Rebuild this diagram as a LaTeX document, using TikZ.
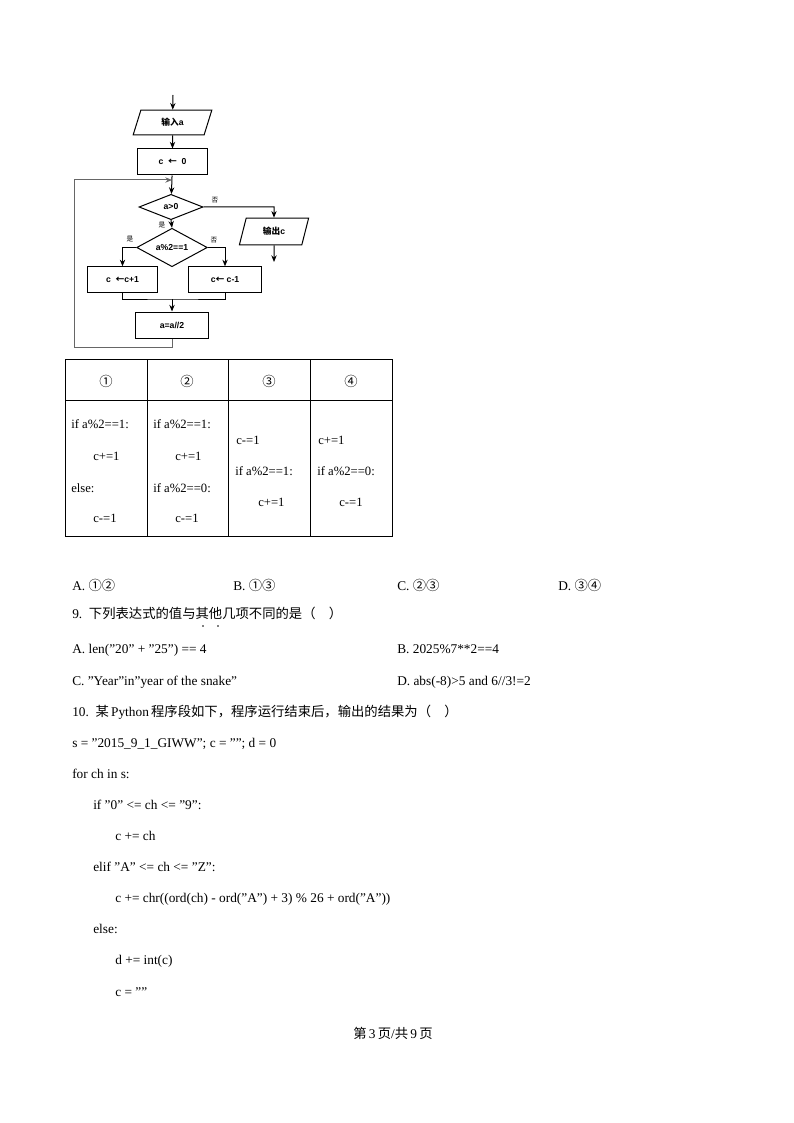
\documentclass[tikz,border=0pt]{standalone}
\usepackage{fontspec}
\setmainfont{Liberation Serif}
\newfontfamily\cjk{Noto Sans CJK SC}
\newfontfamily\cjkb{Noto Sans CJK SC Bold}
\newfontfamily\fsans{Liberation Sans}
\usetikzlibrary{shapes.geometric,arrows.meta}
\begin{document}
\begin{tikzpicture}[x=0.75pt,y=-0.75pt,
  every node/.style={inner sep=0pt},
  fc/.style={draw,line width=0.75pt,font=\fsans\bfseries\fontsize{6.5}{7}\selectfont},
  rbox/.style={fc,rectangle},
  para/.style={fc,trapezium,trapezium left angle=72,trapezium right angle=108,trapezium stretches=true},
  dia/.style={fc,diamond},
  lab/.style={font=\cjk\fontsize{5}{6}\selectfont},
  ar/.style={line width=0.75pt,-{Stealth[length=5pt,width=4pt]}},
  ln/.style={line width=0.75pt},
  tx/.style={anchor=base west,font=\fontsize{10}{12}\selectfont},
  tt/.style={anchor=base west,font=\fontsize{9.5}{12}\selectfont},
  hd/.style={font=\cjk\fontsize{10}{12}\selectfont}]
\useasboundingbox (0,0) rectangle (793,1123);
\fill[white] (0,0) rectangle (793,1123);
% flowchart
\coordinate (st) at (173,95);
\node[para,minimum width=59pt,minimum height=18.5pt] (in) at (172.5,122.5) {{\cjkb 输入}a};
\node[rbox,minimum width=52pt,minimum height=19.5pt] (c0) at (172.5,162) {c\ \ {\cjk ←}\ \ 0};
\node[dia,minimum width=48pt,minimum height=19pt] (d1) at (171,207) {a>0};
\node[para,minimum width=52pt,minimum height=20pt] (out) at (274,231.5) {{\cjkb 输出}c};
\coordinate (oe) at (274,262);
\node[dia,minimum width=53pt,minimum height=22pt] (d2) at (172,247.5) {a\%2==1};
\node[rbox,minimum width=53pt,minimum height=19pt] (r1) at (122.5,279.5) {c\ \ {\cjk ←}c+1};
\node[rbox,minimum width=55pt,minimum height=19pt] (r2) at (225,279.5) {c{\cjk ←}\ c-1};
\node[rbox,minimum width=55pt,minimum height=19.5pt] (r3) at (172,325) {a=a//2};
\coordinate (jn) at (172,180);
\coordinate (mg) at (172,299);
\draw[ar] (st) -- (in);
\draw[ar] (in) -- (c0);
\draw[ar] (c0) -- (d1);
\draw[ar] (d1.east) -- (d1.east -| out) -- (out.north);
\draw[ar] (out.south) -- (oe);
\draw[ar] (d1.south) -- (d2.north);
\draw[ar] (d2.west) -| (r1.north);
\draw[ar] (d2.east) -| (r2.north);
\draw[ln] (r1.south) |- (mg) -| (r2.south);
\draw[ar] (mg) -- (r3.north);
\draw[ar,draw=black!60] (r3.south) -- (172,347) -- (74,347) -- (74,180) -- (jn);
\node[lab] at (215,200) {否};
\node[lab] at (162,225) {是};
\node[lab] at (130,239) {是};
\node[lab] at (214,240) {否};
% table
\draw[line width=0.6pt] (65,359) rectangle (392,536);
\draw[line width=0.6pt] (65,400) -- (392,400);
\foreach \x in {147,228,310} \draw[line width=0.6pt] (\x,359) -- (\x,536);
\node[hd] (h1) at (106,381) {①};
\node[hd] (h2) at (187,381) {②};
\node[hd] (h3) at (269,381) {③};
\node[hd] (h4) at (351,381) {④};
\node[tt] at (71,428) {if a\%2==1:};
\node[tt] at (93,460) {c+=1};
\node[tt] at (71,492) {else:};
\node[tt] at (93,522) {c-=1};
\node[tt] at (153,428) {if a\%2==1:};
\node[tt] at (175,460) {c+=1};
\node[tt] at (153,492) {if a\%2==0:};
\node[tt] at (175,522) {c-=1};
\node[tt] at (236,444) {c-=1};
\node[tt] at (235,475) {if a\%2==1:};
\node[tt] at (258,506) {c+=1};
\node[tt] at (318,444) {c+=1};
\node[tt] at (317,475) {if a\%2==0:};
\node[tt] at (339,506) {c-=1};
% text
\node[tx] at (72,590) {A. {\cjk ①②}};
\node[tx] at (233,590) {B. {\cjk ①③}};
\node[tx] at (397,590) {C. {\cjk ②③}};
\node[tx] at (558,590) {D. {\cjk ③④}};
\node[tx] at (72,618) {9.\ \ {\cjk 下列表达式的值与其他几项不同的是（\quad ）}};
\fill (203,626) circle (0.9) (218,626) circle (0.9);
\node[tx] at (72,653) {A. len("20" + "25") == 4};
\node[tx] at (397,653) {B. 2025\%7**2==4};
\node[tx] at (72,685) {C. "Year"in"year of the snake"};
\node[tx] at (397,685) {D. abs(-8)>5 and 6//3!=2};
\node[tx] at (72,716) {10.\ \ {\cjk 某}\,Python\,{\cjk 程序段如下，程序运行结束后，输出的结果为（\quad ）}};
\node[tx] at (72,747) {s = "2015\_9\_1\_GIWW"; c = ""; d = 0};
\node[tx] at (72,778) {for ch in s:};
\node[tx] at (93,809) {if "0" <= ch <= "9":};
\node[tx] at (115,840) {c += ch};
\node[tx] at (93,871) {elif "A" <= ch <= "Z":};
\node[tx] at (115,902) {c += chr((ord(ch) - ord("A") + 3) \% 26 + ord("A"))};
\node[tx] at (93,933) {else:};
\node[tx] at (115,964) {d += int(c)};
\node[tx] at (115,996) {c = ""};
\node[anchor=base,font=\fontsize{10}{12}\selectfont] at (393,1038) {{\cjk 第}\,3\,{\cjk 页}/{\cjk 共}\,9\,{\cjk 页}};
\end{tikzpicture}
\end{document}
